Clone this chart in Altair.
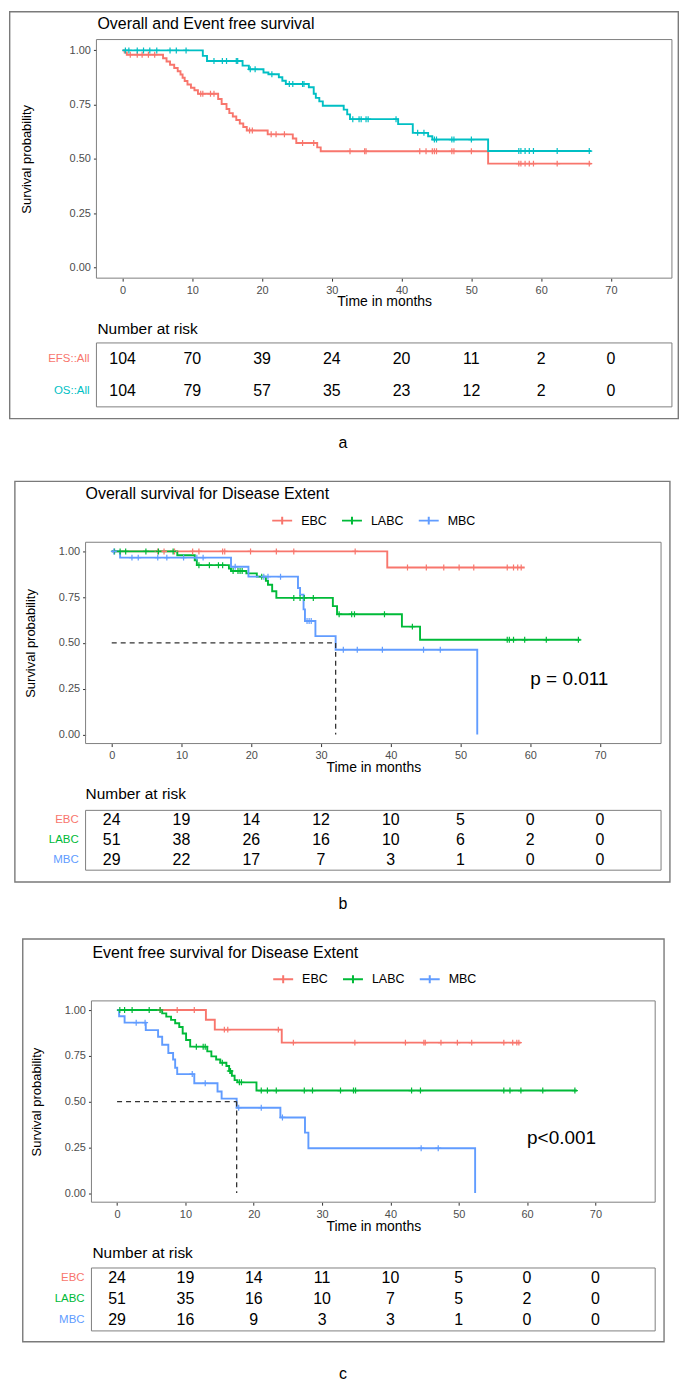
import altair as alt
import pandas as pd

FONT = "Liberation Sans"
S = 0.985


def X(v):
    return round((v - 2) * S, 1)


def Y(v, y0):
    return round((v - y0) * S, 1)


TIME_TICKS = [0, 10, 20, 30, 40, 50, 60, 70]
SURV_TICKS = [0.0, 0.25, 0.5, 0.75, 1.0]
XDOM = [-3.75, 78.75]
YDOM = [-0.05, 1.05]
CROSS = "M-1,0L1,0M0,-1L0,1"
LEG_SYMBOL = "M-1,0L1,0M0,-0.4L0,0.4"
BORDER = "#808080"
FRAME = "#7a7a7a"

# ---------------- panel a : Overall and Event free survival ----------------
A_GROUPS = ["EFS::All", "OS::All"]
A_COLORS = ["#F8766D", "#00BFC4"]
A_EFS_T = [0, 0.3, 0.6, 5.8, 6.3, 6.8, 7.4, 7.9, 8.3, 8.6, 8.9, 9.3, 9.8, 10.3, 10.8,
           13.7, 14.2, 14.9, 15.3, 15.8, 16.3, 16.8, 17.3, 17.8, 20.8, 24.4, 24.9,
           27.9, 28.4, 52.4]
A_EFS_S = [1.0, 0.99, 0.98, 0.964, 0.949, 0.934, 0.919, 0.904, 0.889, 0.874, 0.859,
           0.843, 0.828, 0.816, 0.80, 0.776, 0.753, 0.73, 0.711, 0.695, 0.679, 0.663,
           0.647, 0.631, 0.613, 0.594, 0.573, 0.553, 0.535, 0.478]
A_EFS_END = 67.2
A_EFS_CENS = [1.1, 2.1, 2.8, 3.7, 4.6, 11.2, 11.5, 12.6, 13.1, 18.2, 18.6, 21.3, 22.0,
              23.2, 25.8, 27.4, 32.6, 34.7, 34.9, 42.6, 43.5, 44.4, 44.7, 45.0, 47.2,
              47.5, 50.0, 56.8, 57.1, 57.7, 58.3, 58.9, 62.3, 66.9]
A_OS_T = [0, 11.5, 12.1, 17.2, 18.1, 20.2, 20.9, 22.4, 22.9, 23.4, 26.7, 27.4, 27.7,
          28.2, 28.7, 31.7, 32.2, 32.6, 39.5, 41.6, 43.8, 44.4, 52.4]
A_OS_S = [1.0, 0.975, 0.951, 0.93, 0.913, 0.898, 0.89, 0.876, 0.86, 0.845, 0.83, 0.80,
          0.781, 0.765, 0.745, 0.727, 0.705, 0.683, 0.66, 0.62, 0.604, 0.589, 0.536]
A_OS_END = 67.2
A_OS_CENS = [0.4, 0.9, 2.1, 3.0, 3.9, 4.9, 6.8, 7.7, 9.1, 13.1, 14.3, 14.9, 16.3, 16.5,
             18.3, 19.0, 21.4, 23.9, 24.4, 25.8, 26.0, 33.0, 33.9, 34.2, 34.9, 35.2,
             39.2, 42.3, 43.2, 44.7, 45.0, 47.2, 47.5, 50.0, 56.8, 57.1, 57.7, 58.3,
             58.9, 62.3, 66.9]
A_RISK_EFS = [104, 70, 39, 24, 20, 11, 2, 0]
A_RISK_OS = [104, 79, 57, 35, 23, 12, 2, 0]

# ---------------- panel b : Overall survival for Disease Extent ----------------
DX_GROUPS = ["EBC", "LABC", "MBC"]
DX_COLORS = ["#F8766D", "#00BA38", "#619CFF"]
B_EBC_T = [0, 39.5]
B_EBC_S = [1.0, 0.912]
B_EBC_END = 59.2
B_EBC_CENS = [6.6, 7.5, 9.0, 11.6, 12.5, 15.9, 16.2, 19.9, 23.6, 26.1, 34.9, 42.4, 45.1,
              47.6, 49.8, 51.9, 56.7, 57.6, 58.2, 58.7]
B_LABC_T = [0, 9.4, 11.9, 12.2, 16.8, 17.1, 19.3, 20.8, 22.1, 22.4, 23.0, 23.6, 31.7,
            32.3, 41.6, 44.2]
B_LABC_S = [1.0, 0.979, 0.952, 0.925, 0.907, 0.893, 0.88, 0.862, 0.839, 0.818, 0.782,
            0.746, 0.701, 0.657, 0.589, 0.517]
B_LABC_END = 67.2
B_LABC_CENS = [0.4, 1.2, 2.0, 4.9, 6.7, 8.8, 12.5, 14.0, 15.3, 15.9, 17.4, 18.1, 18.4,
               18.7, 21.5, 26.1, 27.0, 27.6, 28.9, 32.6, 34.4, 34.8, 39.1, 43.1, 56.7,
               57.0, 57.6, 59.2, 62.3, 66.9]
B_MBC_T = [0, 1.2, 17.1, 19.6, 26.7, 27.0, 27.5, 27.7, 29.2, 32.1, 52.4]
B_MBC_S = [1.0, 0.966, 0.916, 0.862, 0.80, 0.764, 0.683, 0.62, 0.537, 0.463, 0.0]
B_MBC_END = None
B_MBC_CENS = [0.3, 2.9, 3.8, 6.6, 7.9, 10.3, 12.2, 13.1, 17.7, 21.8, 22.4, 24.2, 28.0,
              28.3, 28.6, 33.2, 35.2, 38.8, 44.7, 47.1]
B_MEDIAN = 32.1
B_PVAL = "p = 0.011"
B_RISK = [[24, 19, 14, 12, 10, 5, 0, 0],
          [51, 38, 26, 16, 10, 6, 2, 0],
          [29, 22, 17, 7, 3, 1, 0, 0]]

# ---------------- panel c : Event free survival for Disease Extent ----------------
C_EBC_T = [0, 13.0, 14.3, 24.1]
C_EBC_S = [1.0, 0.947, 0.893, 0.822]
C_EBC_END = 59.1
C_EBC_CENS = [6.3, 8.8, 11.3, 15.7, 16.2, 23.6, 25.8, 34.8, 42.2, 44.9, 45.1, 47.4, 49.8,
              51.9, 56.6, 57.9, 58.5, 58.8]
C_LABC_T = [0, 6.6, 7.2, 7.9, 8.5, 9.1, 9.6, 10.1, 10.7, 13.2, 13.8, 14.5, 15.1, 16.0,
            16.4, 16.8, 17.2, 17.6, 20.4]
C_LABC_S = [1.0, 0.982, 0.964, 0.946, 0.928, 0.907, 0.872, 0.836, 0.80, 0.774, 0.747,
            0.73, 0.712, 0.694, 0.667, 0.641, 0.617, 0.605, 0.56]
C_LABC_END = 67.3
C_LABC_CENS = [0.4, 1.1, 2.2, 4.7, 6.3, 11.6, 12.6, 12.9, 15.4, 16.5, 16.6, 17.9, 18.2,
               21.1, 22.0, 23.3, 27.4, 28.6, 32.7, 34.6, 34.9, 43.1, 44.4, 56.6, 57.5,
               59.1, 62.3, 67.0]
C_MBC_T = [0, 0.3, 1.1, 4.2, 6.0, 6.6, 7.5, 8.2, 8.5, 8.8, 11.3, 14.7, 15.3, 17.5, 23.9,
           27.5, 28.0, 52.4]
C_MBC_S = [1.0, 0.966, 0.931, 0.89, 0.854, 0.81, 0.765, 0.73, 0.685, 0.65, 0.60, 0.555,
           0.516, 0.466, 0.413, 0.33, 0.245, 0.0]
C_MBC_END = None
C_MBC_CENS = [2.8, 4.1, 11.0, 12.9, 17.8, 21.1, 24.2, 44.5, 47.0]
C_MEDIAN = 17.5
C_PVAL = "p<0.001"
C_RISK = [[24, 19, 14, 11, 10, 5, 0, 0],
          [51, 35, 16, 10, 7, 5, 2, 0],
          [29, 16, 9, 3, 3, 1, 0, 0]]


# ---------------- helpers ----------------
def surv_at(ts, ss, t):
    v = ss[0]
    for tt, s in zip(ts, ss):
        if tt <= t:
            v = s
    return v


def curve_df(groups, curves):
    rows = []
    for g, (ts, ss, end, _c) in zip(groups, curves):
        for t, s in zip(ts, ss):
            rows.append({"group": g, "t": t, "s": s})
        if end is not None:
            rows.append({"group": g, "t": end, "s": ss[-1]})
    return pd.DataFrame(rows)


def censor_df(groups, curves):
    rows = []
    for g, (ts, ss, _e, cens) in zip(groups, curves):
        for c in cens:
            rows.append({"group": g, "t": c, "s": surv_at(ts, ss, c)})
    return pd.DataFrame(rows)


def risk_df(groups, risk):
    rows = []
    for g, ns in zip(groups, risk):
        for t, n in zip(TIME_TICKS, ns):
            rows.append({"group": g, "time": t, "n": n})
    return pd.DataFrame(rows)


ONE = pd.DataFrame({"k": [0]})


def txt(text, x, y, size, align="left", color="black"):
    return alt.Chart(ONE).mark_text(text=text, align=align, baseline="middle", font=FONT,
                                    fontSize=size, color=color).encode(
        x=alt.value(x), y=alt.value(y))


def build_panel(p):
    H = p["H"]
    xs = alt.Scale(domain=XDOM, range=[p["px0"], p["px1"]], nice=False, zero=False)
    ys = alt.Scale(domain=YDOM, range=[p["py1"], p["py0"]], nice=False, zero=False)
    cs = alt.Scale(domain=p["groups"], range=p["colors"])
    tys = alt.Scale(type="point", domain=p["groups"], range=[p["ty0"], p["ty1"]], padding=0.5)
    leg = p["legend"]

    xax = alt.Axis(values=TIME_TICKS, offset=round(p["py1"] - H, 1), title="Time in months",
                   titleY=p["xt_dy"], titleBaseline="middle", titleFont=FONT, titleFontSize=14,
                   titleFontWeight="normal", titleColor="black", labelFont=FONT,
                   labelFontSize=11, labelColor="#4d4d4d", labelPadding=3, tickSize=3,
                   tickColor="#333333", domain=False, grid=False, labelFlush=False)
    yax = alt.Axis(values=SURV_TICKS, format=".2f", offset=-p["px0"],
                   title="Survival probability", titleX=p["yt_dx"], titleBaseline="middle",
                   titleFont=FONT, titleFontSize=13, titleFontWeight="normal",
                   titleColor="black", labelFont=FONT, labelFontSize=11,
                   labelColor="#4d4d4d", labelPadding=3, tickSize=3, tickColor="#333333",
                   domain=False, grid=False)

    curves = curve_df(p["groups"], p["curves"])
    cens = censor_df(p["groups"], p["curves"])

    border = alt.Chart(ONE).mark_rect(fillOpacity=0, stroke=BORDER, strokeWidth=1).encode(
        x=alt.XDatum(XDOM[0], type="quantitative", scale=xs, axis=xax),
        x2=alt.X2Datum(XDOM[1]),
        y=alt.YDatum(YDOM[0], type="quantitative", scale=ys, axis=yax),
        y2=alt.Y2Datum(YDOM[1]))
    lines = alt.Chart(curves).mark_line(interpolate="step-after", strokeWidth=1.9).encode(
        x=alt.X("t:Q", scale=xs, axis=xax),
        y=alt.Y("s:Q", scale=ys, axis=yax),
        color=alt.Color("group:N", scale=cs, legend=leg))
    marks = alt.Chart(cens).mark_point(shape=CROSS, size=36, strokeWidth=1.2, filled=False,
                                       opacity=1).encode(
        x=alt.X("t:Q", scale=xs, axis=xax),
        y=alt.Y("s:Q", scale=ys, axis=yax),
        color=alt.Color("group:N", scale=cs, legend=leg))
    surv_layers = [border, lines, marks]
    if p.get("median") is not None:
        med = p["median"]
        med_h = alt.Chart(ONE).mark_rule(strokeDash=[5, 4], color="#333333",
                                         strokeWidth=1.3).encode(
            x=alt.XDatum(0, type="quantitative", scale=xs, axis=xax),
            x2=alt.X2Datum(med),
            y=alt.YDatum(0.5, type="quantitative", scale=ys, axis=yax))
        med_v = alt.Chart(ONE).mark_rule(strokeDash=[5, 4], color="#333333",
                                         strokeWidth=1.3).encode(
            x=alt.XDatum(med, type="quantitative", scale=xs, axis=xax),
            y=alt.YDatum(0.5, type="quantitative", scale=ys, axis=yax),
            y2=alt.Y2Datum(0))
        ptxt = alt.Chart(ONE).mark_text(text=p["pval"], align="left", baseline="middle",
                                        font=FONT, fontSize=19, color="black").encode(
            x=alt.XDatum(60, type="quantitative", scale=xs, axis=xax),
            y=alt.YDatum(0.3, type="quantitative", scale=ys, axis=yax))
        surv_layers += [med_h, med_v, ptxt]
    surv = alt.layer(*surv_layers)

    rdf = risk_df(p["groups"], p["risk"])
    ldf = pd.DataFrame({"group": p["groups"]})
    box = alt.Chart(ONE).mark_rect(fillOpacity=0, stroke=BORDER, strokeWidth=1).encode(
        x=alt.XDatum(XDOM[0], type="quantitative", scale=xs, axis=xax),
        x2=alt.X2Datum(XDOM[1]),
        y=alt.value(p["ty0"]), y2=alt.value(p["ty1"]))
    nums = alt.Chart(rdf).mark_text(font=FONT, fontSize=16, baseline="middle",
                                    color="black").encode(
        x=alt.X("time:Q", scale=xs, axis=xax),
        y=alt.Y("group:N", scale=tys, axis=None),
        text="n:Q")
    labs = alt.Chart(ldf).mark_text(font=FONT, fontSize=11.5, align="right",
                                    baseline="middle").encode(
        x=alt.value(p["labx"]),
        y=alt.Y("group:N", scale=tys, axis=None),
        color=alt.Color("group:N", scale=cs, legend=leg),
        text="group:N")
    table = alt.layer(box, nums, labs)

    fx0, fx1, fy0, fy1 = p["frame"]
    frame = alt.Chart(ONE).mark_rect(fillOpacity=0, stroke=FRAME, strokeWidth=1.4).encode(
        x=alt.value(fx0), x2=alt.value(fx1), y=alt.value(fy0), y2=alt.value(fy1))
    title = txt(p["title"], p["title_x"], p["title_y"], 16)
    nar = txt("Number at risk", p["nar_x"], p["nar_y"], 15.5)
    letter = txt(p["letter"], p["let_x"], p["let_y"], 16, align="center")

    return alt.layer(frame, title, nar, letter, surv, table).resolve_scale(
        y="independent").properties(width=672, height=H)


def legend_for(x, y):
    return alt.Legend(orient="none", legendX=x, legendY=y, direction="horizontal",
                      title=None, symbolType=LEG_SYMBOL, symbolSize=400,
                      symbolStrokeWidth=2, labelFont=FONT, labelFontSize=12.5,
                      labelColor="black", labelOffset=8, columnPadding=11)


# panel a layout (reference pixel positions converted to local ones)
YA = 2
pa = build_panel(dict(
    H=451, groups=A_GROUPS, colors=A_COLORS, legend=None,
    curves=[(A_EFS_T, A_EFS_S, A_EFS_END, A_EFS_CENS), (A_OS_T, A_OS_S, A_OS_END, A_OS_CENS)],
    risk=[A_RISK_EFS, A_RISK_OS],
    px0=X(91), px1=X(677), py0=Y(31, YA), py1=Y(274, YA),
    xt_dy=round(Y(298, YA) - Y(274, YA), 1), yt_dx=round(X(20) - X(91), 1),
    ty0=Y(340, YA), ty1=Y(405, YA), labx=X(84),
    frame=(0.7, 671.3, 0.7, Y(417, YA)),
    title="Overall and Event free survival", title_x=X(92), title_y=Y(15, YA),
    nar_x=X(92), nar_y=Y(326, YA), letter="a", let_x=X(342), let_y=Y(442, YA)))

YB = 460
pb = build_panel(dict(
    H=463, groups=DX_GROUPS, colors=DX_COLORS, legend=legend_for(X(269), Y(520, YB) - 10),
    curves=[(B_EBC_T, B_EBC_S, B_EBC_END, B_EBC_CENS),
            (B_LABC_T, B_LABC_S, B_LABC_END, B_LABC_CENS),
            (B_MBC_T, B_MBC_S, B_MBC_END, B_MBC_CENS)],
    risk=B_RISK, median=B_MEDIAN, pval=B_PVAL,
    px0=X(80), px1=X(666), py0=Y(543, YB), py1=Y(748, YB),
    xt_dy=round(Y(772, YB) - Y(748, YB), 1), yt_dx=round(X(24) - X(80), 1),
    ty0=Y(816, YB), ty1=Y(877, YB), labx=X(73),
    frame=(X(8), X(675), Y(481, YB), Y(889, YB)),
    title="Overall survival for Disease Extent", title_x=X(80), title_y=Y(494, YB),
    nar_x=X(80), nar_y=Y(799, YB), letter="b", let_x=X(342), let_y=Y(911, YB)))

YC = 930
pc = build_panel(dict(
    H=461, groups=DX_GROUPS, colors=DX_COLORS, legend=legend_for(X(270), Y(987, YC) - 10),
    curves=[(C_EBC_T, C_EBC_S, C_EBC_END, C_EBC_CENS),
            (C_LABC_T, C_LABC_S, C_LABC_END, C_LABC_CENS),
            (C_MBC_T, C_MBC_S, C_MBC_END, C_MBC_CENS)],
    risk=C_RISK, median=C_MEDIAN, pval=C_PVAL,
    px0=X(86), px1=X(660), py0=Y(1010, YC), py1=Y(1215, YC),
    xt_dy=round(Y(1240, YC) - Y(1215, YC), 1), yt_dx=round(X(30) - X(86), 1),
    ty0=Y(1282, YC), ty1=Y(1346, YC), labx=X(79),
    frame=(X(16), X(669), Y(947, YC), Y(1357, YC)),
    title="Event free survival for Disease Extent", title_x=X(87), title_y=Y(961, YC),
    nar_x=X(87), nar_y=Y(1267, YC), letter="c", let_x=X(342), let_y=Y(1390, YC)))

chart = alt.vconcat(pa, pb, pc, spacing=0, bounds="flush", padding=0).resolve_scale(
    color="independent").resolve_legend(color="independent").configure_view(
    stroke="transparent")

chart.save("out.html", embed_options={"renderer": "svg", "actions": False})
